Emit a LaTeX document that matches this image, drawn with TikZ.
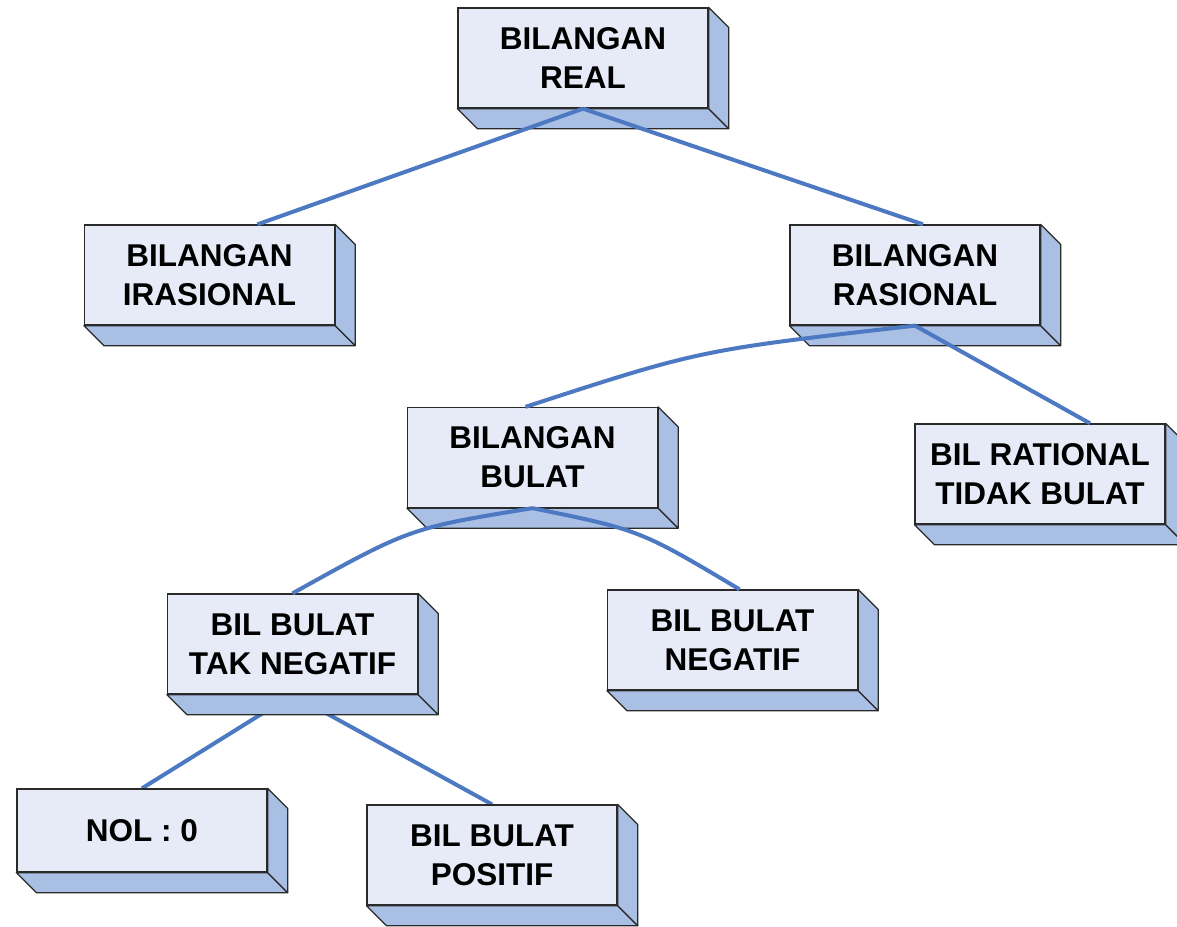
\documentclass[tikz,border=0pt]{standalone}
\usepackage{fontspec}
\setmainfont{Liberation Sans}
\usetikzlibrary{calc,backgrounds}
\definecolor{frontc}{HTML}{E6EBF7}
\definecolor{sidec}{HTML}{A9BFE4}
\definecolor{linec}{HTML}{4C79C1}
\definecolor{edgec}{HTML}{2A2A2A}
\begin{document}
\begin{tikzpicture}[x=1pt,y=-1pt,
 box3d/.style={draw=edgec, line width=1.3pt, fill=frontc, minimum width=250pt, minimum height=100pt, inner sep=0pt, align=center, font=\fontsize{31.5}{39}\selectfont\bfseries},
 face/.style={draw=edgec, line width=1.3pt, fill=sidec, line join=round},
 conn/.style={draw=linec, line width=4pt}]
\useasboundingbox (0,0) rectangle (1177,926);
\node[box3d] (real) at (583,58) {BILANGAN\\REAL};
\node[box3d] (iras) at (209.5,275) {BILANGAN\\IRASIONAL};
\node[box3d] (ras) at (915,275) {BILANGAN\\RASIONAL};
\node[box3d] (bulat) at (532.5,457.5) {BILANGAN\\BULAT};
\node[box3d] (tidak) at (1040,474) {BIL RATIONAL\\TIDAK BULAT};
\node[box3d] (tak) at (292.5,644) {BIL BULAT\\TAK NEGATIF};
\node[box3d] (neg) at (732.5,640) {BIL BULAT\\NEGATIF};
\node[box3d, minimum height=83pt] (nol) at (142,830.5) {NOL : 0};
\node[box3d] (pos) at (492,855) {BIL BULAT\\POSITIF};
\foreach \n in {real,iras,ras,bulat,tidak,tak,neg,nol,pos} {
  \filldraw[face] (\n.south west) -- ++(20,20) -- ($(\n.south east)+(20,20)$) -- (\n.south east) -- cycle;
  \filldraw[face] (\n.north east) -- ++(20,20) -- ($(\n.south east)+(20,20)$) -- (\n.south east) -- cycle;
}
\draw[conn] (real.south) -- ($(iras.north)+(48,0)$);
\draw[conn] (real.south) -- ($(ras.north)+(8,0)$);
\draw[conn] (ras.south) .. controls (700,350) .. ($(bulat.north)+(-7,0)$);
\draw[conn] (ras.south) -- ($(tidak.north)+(50,0)$);
\draw[conn] (bulat.south) .. controls (410,528) .. (tak.north);
\draw[conn] (bulat.south) .. controls (640,530) .. ($(neg.north)+(7,0)$);
\begin{scope}[on background layer]
\draw[conn] (tak.south) -- (nol.north);
\draw[conn] (tak.south) -- (pos.north);
\end{scope}
\end{tikzpicture}
\end{document}
